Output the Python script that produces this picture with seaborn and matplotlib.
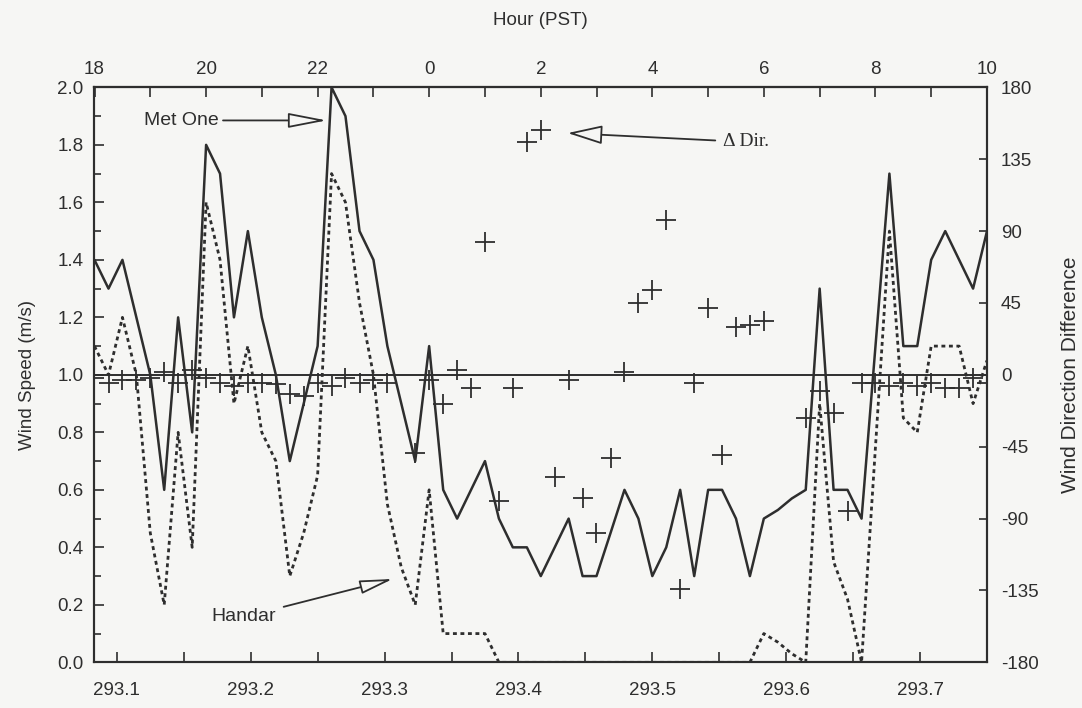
import matplotlib.pyplot as plt
import numpy as np
import pandas as pd
import seaborn as sns
from matplotlib.ticker import MultipleLocator


# sample times (day of year, UTC), every 15 minutes
day = [293.0833, 293.0938, 293.1042, 293.1146, 293.1250, 293.1354, 293.1458, 293.1563,
       293.1667, 293.1771, 293.1875, 293.1979, 293.2083, 293.2188, 293.2292, 293.2396,
       293.2500, 293.2604, 293.2708, 293.2813, 293.2917, 293.3021, 293.3125, 293.3229,
       293.3333, 293.3438, 293.3542, 293.3646, 293.3750, 293.3854, 293.3958, 293.4063,
       293.4167, 293.4271, 293.4375, 293.4479, 293.4583, 293.4688, 293.4792, 293.4896,
       293.5000, 293.5104, 293.5208, 293.5313, 293.5417, 293.5521, 293.5625, 293.5729,
       293.5833, 293.5938, 293.6042, 293.6146, 293.6250, 293.6354, 293.6458, 293.6563,
       293.6667, 293.6771, 293.6875, 293.6979, 293.7083, 293.7188, 293.7292, 293.7396,
       293.7500]

# wind speed (m/s)
met_one = [1.4, 1.3, 1.4, 1.2, 1.0, 0.6, 1.2, 0.8,
           1.8, 1.7, 1.2, 1.5, 1.2, 1.0, 0.7, 0.9,
           1.1, 2.0, 1.9, 1.5, 1.4, 1.1, 0.9, 0.7,
           1.1, 0.6, 0.5, 0.6, 0.7, 0.5, 0.4, 0.4,
           0.3, 0.4, 0.5, 0.3, 0.3, 0.45, 0.6, 0.5,
           0.3, 0.4, 0.6, 0.3, 0.6, 0.6, 0.5, 0.3,
           0.5, 0.53, 0.57, 0.6, 1.3, 0.6, 0.6, 0.5,
           1.1, 1.7, 1.1, 1.1, 1.4, 1.5, 1.4, 1.3,
           1.5]

handar = [1.1, 1.0, 1.2, 1.0, 0.45, 0.2, 0.8, 0.4,
          1.6, 1.4, 0.9, 1.1, 0.8, 0.7, 0.3, 0.45,
          0.65, 1.7, 1.6, 1.25, 1.0, 0.55, 0.33, 0.2,
          0.6, 0.1, 0.1, 0.1, 0.1, 0.0, 0.0, 0.0,
          0.0, 0.0, 0.0, 0.0, 0.0, 0.0, 0.0, 0.0,
          0.0, 0.0, 0.0, 0.0, 0.0, 0.0, 0.0, 0.0,
          0.1, 0.07, 0.03, 0.0, 0.9, 0.35, 0.22, 0.0,
          0.75, 1.5, 0.85, 0.8, 1.1, 1.1, 1.1, 0.9,
          1.05]

# wind direction difference (deg), missing where no cross is drawn
dir_diff = [-2, -5, -3, -3, -2, 2, -5, 3,
            -2, -5, -7, -5, -5, -6, -12, -13,
            -5, -7, -2, -5, -3, -5, np.nan, -49,
            -3, -18, 3, -8, 83, -79, -8, 146,
            153, -64, -3, -77, -99, -52, 2, 45,
            53, 97, -134, -5, 42, -50, 30, 31,
            34, np.nan, np.nan, -27, -10, -24, -85, -5,
            -5, -7, -5, -7, -5, -8, -8, -2,
            -5]

df = pd.DataFrame({'day': day, 'met_one': met_one, 'handar': handar, 'dir_diff': dir_diff})

bg = '#f6f6f4'
ink = '#2e2e2e'

sns.set_style('ticks')
plt.rcParams['font.family'] = ['Liberation Sans', 'DejaVu Sans']
plt.rcParams['axes.unicode_minus'] = False
plt.rcParams['text.color'] = ink
plt.rcParams['axes.labelcolor'] = ink
plt.rcParams['xtick.color'] = ink
plt.rcParams['ytick.color'] = ink

fig = plt.figure(figsize=(10.82, 7.08), dpi=100, facecolor=bg)
ax = fig.add_axes([0.0873, 0.0645, 0.8249, 0.8121])
ax.set_facecolor(bg)

sns.lineplot(data=df, x='day', y='met_one', ax=ax, color=ink, lw=1.8)
sns.lineplot(data=df, x='day', y='handar', ax=ax, color=ink, lw=2.0, linestyle=(0, (1.4, 1.3)))
ax.axhline(1.0, color=ink, lw=1.4)

ax.set_xlim(293.0833, 293.75)
ax.set_ylim(0, 2)
ax.set_xticks(np.arange(293.1, 293.75, 0.1))
ax.set_xticklabels([f'{v:.1f}' for v in np.arange(293.1, 293.75, 0.1)])
ax.xaxis.set_minor_locator(MultipleLocator(0.05))
ax.set_yticks(np.arange(0, 2.01, 0.2))
ax.set_yticklabels([f'{v:.1f}' for v in np.arange(0, 2.01, 0.2)])
ax.yaxis.set_minor_locator(MultipleLocator(0.1))
ax.tick_params(axis='x', which='both', direction='in', length=7, width=1.2, pad=14, labelsize=13.5)
ax.tick_params(axis='y', which='major', direction='in', length=7, width=1.2, pad=8, labelsize=13.5)
ax.tick_params(axis='y', which='minor', direction='in', length=5, width=1.2)
ax.set_xlabel('')
ax.set_ylabel('Wind Speed (m/s)', fontsize=13.5, labelpad=15)

# right axis: direction difference
ax2 = ax.twinx()
sns.scatterplot(data=df, x='day', y='dir_diff', ax=ax2, marker='+', s=200,
                color=ink, linewidth=1.3, legend=False)
ax2.set_ylim(-180, 180)
ax2.set_yticks(np.arange(-180, 181, 45))
ax2.tick_params(axis='y', direction='in', length=6, width=1.2, pad=10, labelsize=13.5)
ax2.set_ylabel('Wind Direction Difference', fontsize=15, labelpad=16)
ax2.set_xlabel('')

# top axis: hour (PST)
top = ax.secondary_xaxis('top', functions=(lambda d: (d - 293) * 24 + 16,
                                           lambda h: 293 + (h - 16) / 24))
top.set_xticks(np.arange(18, 35, 2))
top.set_xticklabels([str(h % 24) for h in range(18, 35, 2)])
top.xaxis.set_minor_locator(MultipleLocator(1))
top.tick_params(axis='x', which='both', direction='in', length=7, width=1.2, pad=7, labelsize=13.5)
top.set_xlabel('Hour (PST)', fontsize=13.5, labelpad=26)

for a in (ax, ax2):
    for sp in a.spines.values():
        sp.set_linewidth(1.5)
        sp.set_color(ink)
for sp in top.spines.values():
    sp.set_linewidth(1.5)
    sp.set_color(ink)

# annotations
ax.annotate('Met One', xy=(293.2567, 1.885), xytext=(293.1200, 1.885),
            ha='left', va='center', fontsize=14,
            arrowprops=dict(arrowstyle='-|>,head_length=1.7,head_width=0.33',
                            fc=bg, ec=ink, lw=1.3, shrinkA=1, shrinkB=0))
ax.annotate('Handar', xy=(293.3061, 0.290), xytext=(293.1709, 0.158),
            ha='left', va='center', fontsize=14,
            arrowprops=dict(arrowstyle='-|>,head_length=1.45,head_width=0.3',
                            fc=bg, ec=ink, lw=1.3, shrinkA=3, shrinkB=0))
ax.annotate('\u0394 Dir.', xy=(293.4368, 1.841), xytext=(293.5526, 1.810),
            ha='left', va='center', fontsize=14, family=['Liberation Serif', 'DejaVu Serif'],
            arrowprops=dict(arrowstyle='-|>,head_length=1.55,head_width=0.42',
                            fc=bg, ec=ink, lw=1.3, shrinkA=3, shrinkB=0))

fig.savefig('out.png', dpi=100, facecolor=bg)
